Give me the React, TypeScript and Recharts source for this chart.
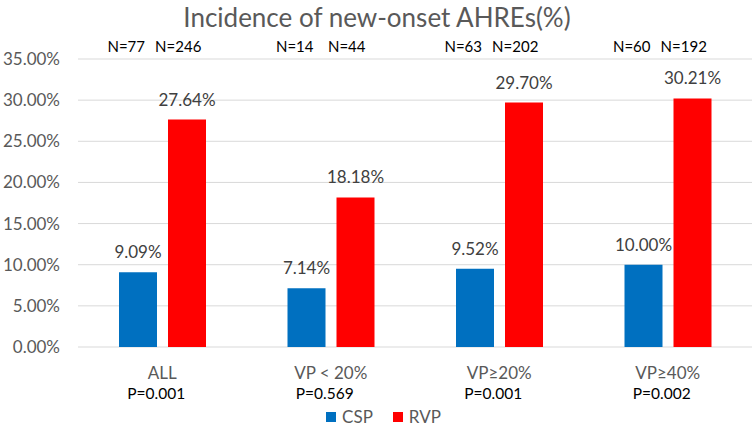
import { BarChart, Bar, XAxis, YAxis, CartesianGrid, Legend, LabelList } from "recharts";

const CATEGORIES = ["ALL", "VP < 20%", "VP≥20%", "VP≥40%"];
const CSP_VALUES = [9.09, 7.14, 9.52, 10.0];
const RVP_VALUES = [27.64, 18.18, 29.7, 30.21];
const CSP_N = ["N=77", "N=14", "N=63", "N=60"];
const RVP_N = ["N=246", "N=44", "N=202", "N=192"];
const P_VALUES = ["P=0.001", "P=0.569", "P=0.001", "P=0.002"];
const Y_TICKS = [0, 5, 10, 15, 20, 25, 30, 35];

const data = CATEGORIES.map((name, i) => ({ name, csp: CSP_VALUES[i], rvp: RVP_VALUES[i] }));

const FONT = "Lato, 'Open Sans', sans-serif";
const GRAY = "#595959";

if (typeof document !== "undefined") document.body.style.margin = "0";

function BottomTick({ x, y, payload }: any) {
  const i = CATEGORIES.indexOf(payload.value);
  return (
    <g>
      <text x={x} y={y + 32} textAnchor="middle" fontSize={17} fill={GRAY} fontFamily={FONT}>
        {payload.value}
      </text>
      <text x={x - 6} y={y + 52} textAnchor="middle" fontSize={15.5} fill="#000" fontFamily={FONT}>
        {P_VALUES[i]}
      </text>
    </g>
  );
}

function TopTick({ x, y, payload }: any) {
  const i = CATEGORIES.indexOf(payload.value);
  return (
    <g fontSize={15} fill="#000" fontFamily={FONT}>
      <text x={x - 36} y={y - 7} textAnchor="middle">{CSP_N[i]}</text>
      <text x={x + 16} y={y - 7} textAnchor="middle">{RVP_N[i]}</text>
    </g>
  );
}

function LegendContent() {
  const items = [
    { label: "CSP", color: "#0070C0" },
    { label: "RVP", color: "#FF0000" },
  ];
  return (
    <div
      style={{
        boxSizing: "border-box",
        display: "flex",
        justifyContent: "center",
        alignItems: "center",
        height: 24,
        paddingTop: 4,
        paddingLeft: 15,
        fontFamily: FONT,
        fontSize: 17,
        lineHeight: "20px",
        color: GRAY,
      }}
    >
      {items.map((it) => (
        <span key={it.label} style={{ display: "flex", alignItems: "center", margin: "0 10px" }}>
          <span style={{ width: 10, height: 10, background: it.color, marginRight: 6 }} />
          {it.label}
        </span>
      ))}
    </div>
  );
}

export default function App() {
  return (
    <div style={{ position: "relative", width: 754, height: 427, background: "#fff" }}>
      <div style={{ position: "absolute", top: 0, left: 0, width: 754, textAlign: "center", fontFamily: FONT, fontSize: 26, color: GRAY, lineHeight: "34px" }}>
        Incidence of new-onset AHREs(%)
      </div>
      <BarChart width={754} height={427} data={data} margin={{ top: 29, right: 2, left: 0, bottom: 0 }} barSize={38} barGap={11}>
        <CartesianGrid vertical={false} stroke="#d9d9d9" />
        <XAxis xAxisId="main" dataKey="name" axisLine={false} tickLine={false} tickSize={0} tickMargin={0} height={56} tick={<BottomTick />} interval={0} />
        <XAxis xAxisId="top" dataKey="name" orientation="top" axisLine={false} tickLine={false} tickSize={0} tickMargin={0} height={30} tick={<TopTick />} interval={0} />
        <YAxis
          domain={[0, 35]}
          ticks={Y_TICKS}
          width={78}
          axisLine={false}
          tickLine={false}
          tickSize={0}
          tickMargin={18}
          tickFormatter={(v: number) => `${v.toFixed(2)}%`}
          tick={{ fontSize: 17, fill: GRAY, fontFamily: FONT }}
        />
        <Legend verticalAlign="bottom" content={<LegendContent />} wrapperStyle={{ height: 24 }} />
        <Bar xAxisId="main" dataKey="csp" name="CSP" fill="#0070C0" isAnimationActive={false}>
          <LabelList dataKey="csp" position="top" offset={14} formatter={(v: any) => `${Number(v).toFixed(2)}%`} style={{ fontSize: 17, fill: "#404040", fontFamily: FONT }} />
        </Bar>
        <Bar xAxisId="main" dataKey="rvp" name="RVP" fill="#FF0000" isAnimationActive={false}>
          <LabelList dataKey="rvp" position="top" offset={14} formatter={(v: any) => `${Number(v).toFixed(2)}%`} style={{ fontSize: 17, fill: "#404040", fontFamily: FONT }} />
        </Bar>
      </BarChart>
    </div>
  );
}
